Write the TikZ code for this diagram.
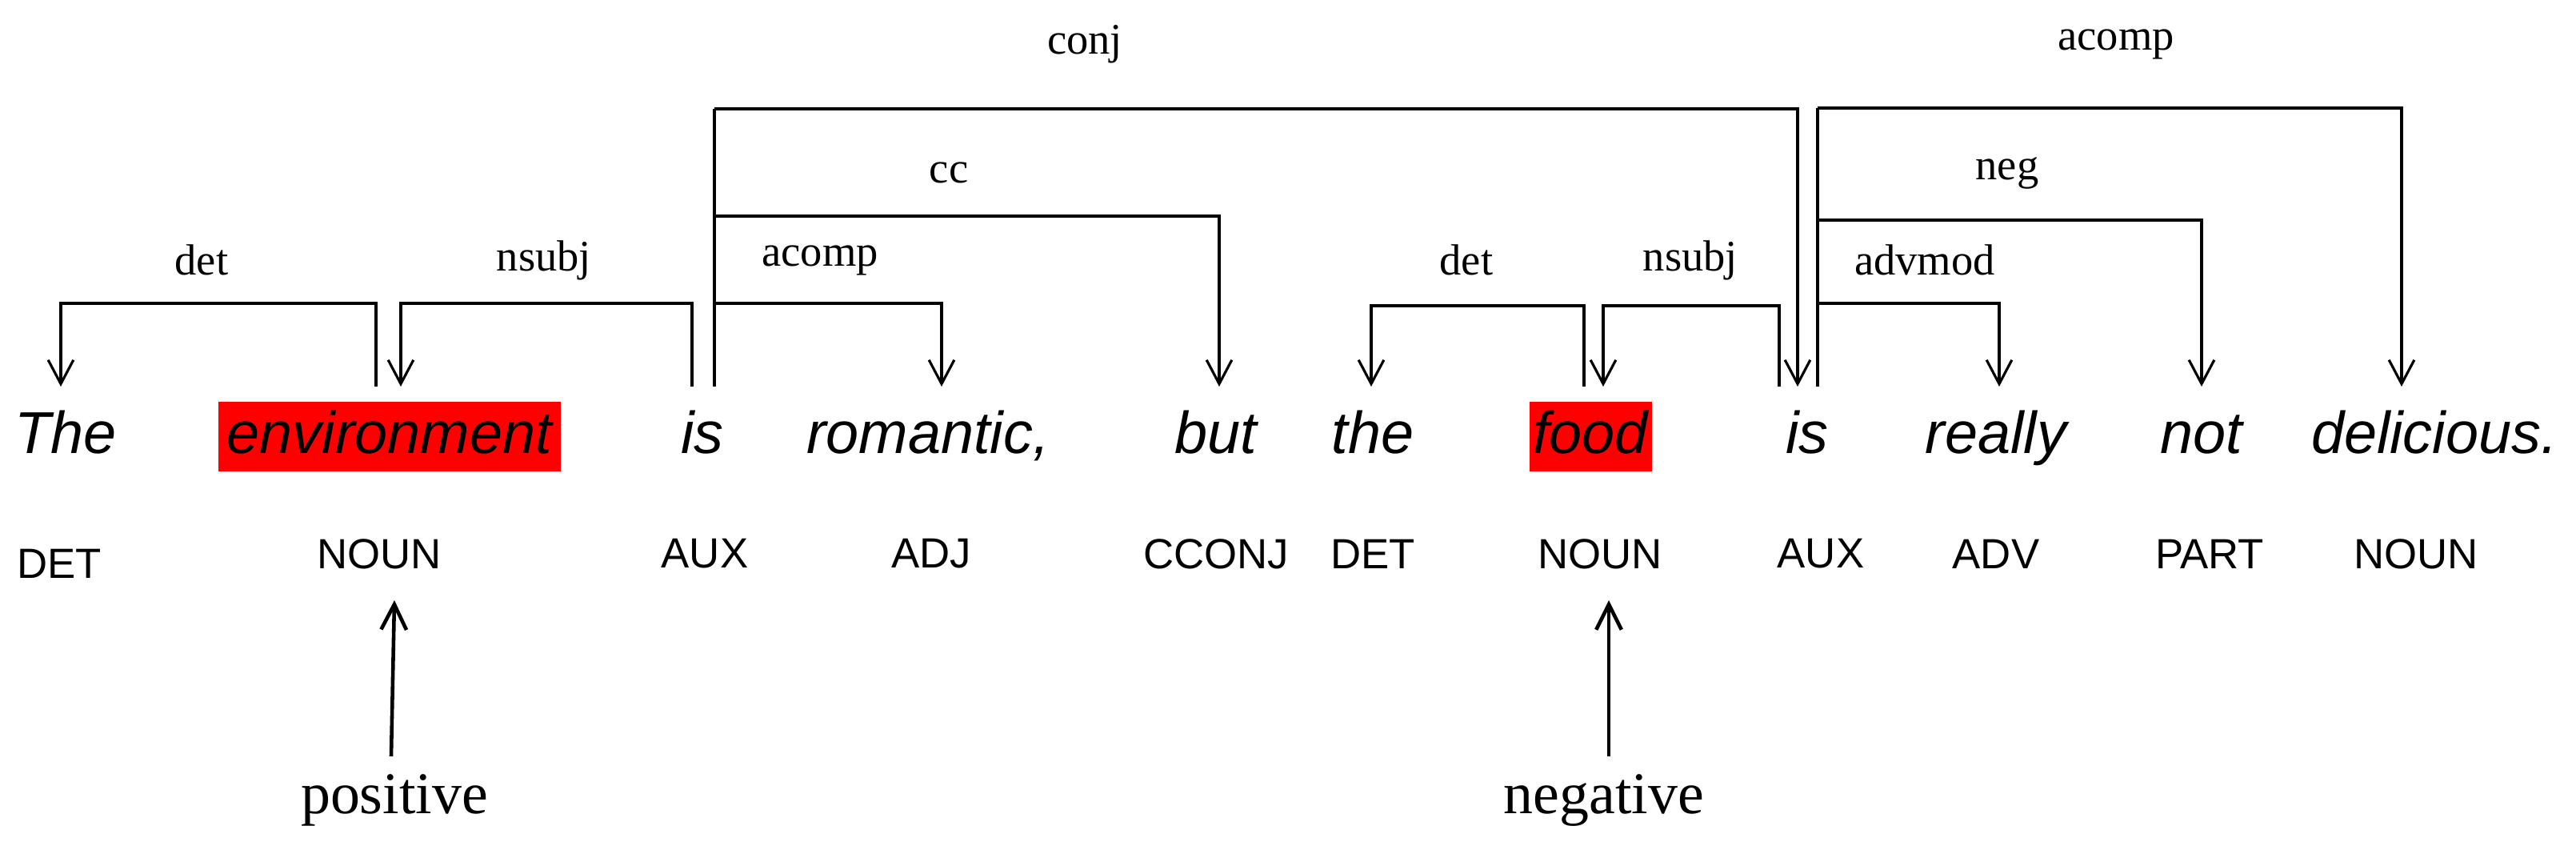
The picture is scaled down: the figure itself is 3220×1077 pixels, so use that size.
\documentclass[tikz,border=0pt]{standalone}
\usepackage{fontspec}
\setmainfont{Liberation Serif}
\setsansfont{Liberation Sans}
\usetikzlibrary{arrows.meta}
\definecolor{hl}{RGB}{255,0,0}
\tikzset{
 word/.style={font=\sffamily\itshape\fontsize{21}{24}\selectfont, inner sep=0pt, anchor=base},
 postag/.style={font=\sffamily\fontsize{15}{18}\selectfont, inner sep=0pt},
 rel/.style={font=\fontsize{15.5}{18}\selectfont, inner sep=0pt},
 senti/.style={font=\fontsize{21}{24}\selectfont, inner sep=0pt},
 dep/.style={line width=0.9pt, -{Straight Barb[length=8.5pt,width=9pt,line width=0.9pt]}},
 stem/.style={line width=0.9pt},
 big/.style={line width=1.3pt, -{Straight Barb[length=9pt,width=9pt,line width=1.3pt]}}
}
\begin{document}
\begin{tikzpicture}[x=0.01cm,y=-0.01cm]
\useasboundingbox (0,0) rectangle (3220,1077);
% highlights
\fill[hl] (273,502) rectangle (701,589);
\fill[hl] (1912,502) rectangle (2065,589);
% words
\def\wb{567}
\node[word] (w1) at (82,\wb) {The};
\node[word] (w2) at (487,\wb) {environment};
\node[word] (w3) at (878,\wb) {is};
\node[word] (w4) at (1160,\wb) {romantic,};
\node[word] (w5) at (1520,\wb) {but};
\node[word] (w6) at (1716,\wb) {the};
\node[word] (w7) at (1988,\wb) {food};
\node[word] (w8) at (2259,\wb) {is};
\node[word] (w9) at (2495,\wb) {really};
\node[word] (w10) at (2752,\wb) {not};
\node[word] (w11) at (3043,\wb) {delicious.};
% POS
\node[postag] (p1) at (74,704) {DET};
\node[postag] (p2) at (474,692) {NOUN};
\node[postag] (p3) at (881,692) {AUX};
\node[postag] (p4) at (1164,692) {ADJ};
\node[postag] (p5) at (1520,692) {CCONJ};
\node[postag] (p6) at (1716,692) {DET};
\node[postag] (p7) at (2000,692) {NOUN};
\node[postag] (p8) at (2276,692) {AUX};
\node[postag] (p9) at (2495,692) {ADV};
\node[postag] (p10) at (2762,692) {PART};
\node[postag] (p11) at (3020,692) {NOUN};
% relation labels
\node[rel] (ldet1) at (252,325) {det};
\node[rel] (lnsubj1) at (680,325) {nsubj};
\node[rel] (lacomp1) at (1025,325) {acomp};
\node[rel] (lcc) at (1186,216) {cc};
\node[rel] (lconj) at (1356,55) {conj};
\node[rel] (ldet2) at (1833,325) {det};
\node[rel] (lnsubj2) at (2113,325) {nsubj};
\node[rel] (ladvmod) at (2406,325) {advmod};
\node[rel] (lneg) at (2509,216) {neg};
\node[rel] (lacomp2) at (2645,55) {acomp};
% coordinates
\coordinate (t1) at (76,483);
\coordinate (t2a) at (470,483);
\coordinate (t2b) at (501,483);
\coordinate (t3a) at (865,483);
\coordinate (t3b) at (893,483);
\coordinate (t4) at (1177,483);
\coordinate (t5) at (1524,483);
\coordinate (t6) at (1714,483);
\coordinate (t7a) at (1980,483);
\coordinate (t7b) at (2004,483);
\coordinate (t8a) at (2224,483);
\coordinate (t8b) at (2247,483);
\coordinate (t8c) at (2272,483);
\coordinate (t9) at (2499,483);
\coordinate (t10) at (2752,483);
\coordinate (t11) at (3002,483);
% is1 stem
\draw[stem] (t3b) -- ++(0,-347);
% arcs
\draw[dep] (t2a) |- (76,379) -- (t1);
\draw[dep] (t3a) |- (501,379) -- (t2b);
\draw[dep] (893,379) -| (t4);
\draw[dep] (893,270) -| (t5);
\draw[dep] (893,136) -| (t8b);
\draw[dep] (t7a) |- (1714,382) -- (t6);
\draw[dep] (t8a) |- (2004,382) -- (t7b);
\draw[stem] (t8c) -- ++(0,-348);
\draw[dep] (2272,379) -| (t9);
\draw[dep] (2272,275) -| (t10);
\draw[dep] (2272,135) -| (t11);
% sentiment
\node[senti] (pos1) at (493,1000) {positive};
\node[senti] (neg1) at (2005,1000) {negative};
\coordinate (b1) at (493,750);
\coordinate (b2) at (2011,750);
\draw[big] ([shift={(-4,-22)}]pos1.north) -- (b1);
\draw[big] ([shift={(6,-22)}]neg1.north) -- (b2);
\end{tikzpicture}
\end{document}
